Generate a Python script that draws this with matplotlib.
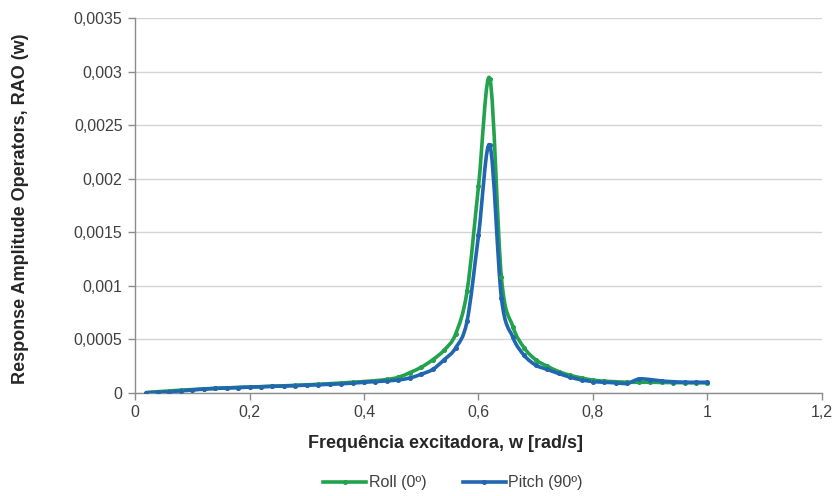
import matplotlib
matplotlib.use("Agg")
import matplotlib.pyplot as plt
import numpy as np
from matplotlib.path import Path
from matplotlib.patches import PathPatch
from matplotlib.lines import Line2D
from matplotlib.ticker import FuncFormatter

plt.rcParams['font.family'] = ['Liberation Sans', 'DejaVu Sans']

freq = [0.02, 0.04, 0.06, 0.08, 0.10, 0.12, 0.14, 0.16, 0.18, 0.20,
        0.22, 0.24, 0.26, 0.28, 0.30, 0.32, 0.34, 0.36, 0.38, 0.40,
        0.42, 0.44, 0.46, 0.48, 0.50, 0.52, 0.54, 0.56, 0.58, 0.60,
        0.62, 0.64, 0.66, 0.68, 0.70, 0.72, 0.74, 0.76, 0.78, 0.80,
        0.82, 0.84, 0.86, 0.88, 0.90, 0.92, 0.94, 0.96, 0.98, 1.00]

roll = [0.000004, 0.000012, 0.000019, 0.000026, 0.000032, 0.000038, 0.000043, 0.000047, 0.000051, 0.000055,
        0.000059, 0.000063, 0.000067, 0.000071, 0.000076, 0.000081, 0.000087, 0.000093, 0.000100, 0.000107,
        0.000115, 0.000126, 0.000146, 0.000190, 0.000240, 0.000310, 0.000400, 0.000550, 0.000950, 0.001930,
        0.002930, 0.001080, 0.000620, 0.000420, 0.000310, 0.000250, 0.000200, 0.000165, 0.000140, 0.000120,
        0.000110, 0.000105, 0.000100, 0.000100, 0.000100, 0.000098, 0.000097, 0.000096, 0.000095, 0.000095]

pitch = [0.000002, 0.000006, 0.000012, 0.000020, 0.000028, 0.000036, 0.000042, 0.000047, 0.000051, 0.000055,
         0.000058, 0.000062, 0.000065, 0.000069, 0.000073, 0.000077, 0.000081, 0.000086, 0.000092, 0.000100,
         0.000106, 0.000113, 0.000122, 0.000140, 0.000175, 0.000220, 0.000310, 0.000420, 0.000670, 0.001470,
         0.002310, 0.000890, 0.000520, 0.000350, 0.000260, 0.000220, 0.000182, 0.000148, 0.000122, 0.000107,
         0.000100, 0.000095, 0.000090, 0.000130, 0.000125, 0.000112, 0.000105, 0.000100, 0.000100, 0.000100]

series_names = ["Roll (0º)", "Pitch (90º)"]
colors = ["#23a24d", "#2166b0"]

def smooth_path(x, y):
    x = np.asarray(x, float); y = np.asarray(y, float)
    n = len(x)
    verts = [(x[0], y[0])]
    codes = [Path.MOVETO]
    for i in range(n - 1):
        x0, y0 = (x[i - 1], y[i - 1]) if i > 0 else (x[i], y[i])
        x3, y3 = (x[i + 2], y[i + 2]) if i + 2 < n else (x[i + 1], y[i + 1])
        c1 = (x[i] + (x[i + 1] - x0) / 6, y[i] + (y[i + 1] - y0) / 6)
        c2 = (x[i + 1] - (x3 - x[i]) / 6, y[i + 1] - (y3 - y[i]) / 6)
        verts += [c1, c2, (x[i + 1], y[i + 1])]
        codes += [Path.CURVE4] * 3
    return Path(verts, codes)

fig = plt.figure(figsize=(8.35, 4.96), dpi=100)
ax = fig.add_axes([0.1617, 0.2077, 0.8227, 0.756])

for vals, c in zip([roll, pitch], colors):
    ax.add_patch(PathPatch(smooth_path(freq, vals), facecolor='none', edgecolor=c,
                           lw=2.6, capstyle='round', joinstyle='round', zorder=3))
    ax.plot(freq, vals, linestyle='none', marker='o', ms=2.6, color=c, zorder=4)

ax.set_xlim(0, 1.2)
ax.set_ylim(0, 0.0035)
ax.set_xticks(np.arange(0, 1.21, 0.2))
ax.set_yticks(np.arange(0, 0.00351, 0.0005))

def fmt(v, pos):
    s = ('%.4f' % v).rstrip('0').rstrip('.')
    return s.replace('.', ',')

ax.xaxis.set_major_formatter(FuncFormatter(fmt))
ax.yaxis.set_major_formatter(FuncFormatter(fmt))

ax.yaxis.grid(True, color='#d4d4d4', lw=1.0)
ax.set_axisbelow(True)
for s in ['top', 'right']:
    ax.spines[s].set_visible(False)
for s in ['left', 'bottom']:
    ax.spines[s].set_color('#8c8c8c')
    ax.spines[s].set_linewidth(1.0)
ax.tick_params(axis='both', direction='out', length=5, width=1, color='#8c8c8c',
               labelsize=11.5, labelcolor='#404040')
ax.tick_params(axis='y', pad=4)
ax.tick_params(axis='x', pad=4)

fig.text(446 / 835, 1 - 444 / 496, "Frequência excitadora, w [rad/s]", fontsize=13,
         fontweight='bold', color='#262626', ha='center', va='center')
fig.text(21 / 835, 1 - 209 / 496, "Response Amplitude Operators, RAO (w)", fontsize=13,
         fontweight='bold', color='#262626', ha='center', va='center', rotation=90)

handles = [Line2D([], [], color=c, lw=2.6, marker='o', ms=2.6) for c in colors]
fig.legend(handles, series_names, loc='center', bbox_to_anchor=(453 / 835, 1 - 483 / 496),
           ncol=2, frameon=False, fontsize=11.5, handlelength=2.7, handletextpad=0.15,
           columnspacing=2.3, labelcolor='#404040', borderpad=0, borderaxespad=0)

fig.savefig("out.png", dpi=100)
